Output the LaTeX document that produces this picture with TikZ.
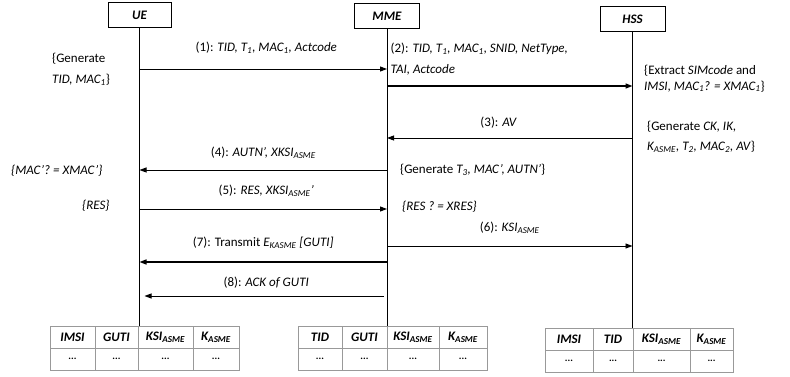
\documentclass[tikz,border=0pt]{standalone}
\usepackage{fontspec}
\setmainfont{Carlito}
\usetikzlibrary{arrows.meta}

\begin{document}
\begin{tikzpicture}[
        x=1pt, y=-1pt,
        >={Triangle[length=7pt, width=5pt]},
        every node/.style={font=\fontsize{13}{15}\selectfont},
        entity/.style={draw, line width=1pt, minimum width=63pt, minimum height=25pt, font=\fontsize{13}{15}\selectfont\bfseries\itshape},
        life/.style={draw, line width=0.9pt},
        msg/.style={draw, line width=0.9pt, ->},
        lbl/.style={inner sep=0pt},
        note/.style={inner sep=0pt, anchor=west, align=left},
        hcell/.style={draw=gray!80, line width=0.8pt, minimum height=22pt, inner sep=0pt, outer sep=0pt, anchor=north west, font=\fontsize{13}{15}\selectfont\bfseries\itshape},
        dcell/.style={draw=gray!80, line width=0.8pt, minimum height=22pt, inner sep=0pt, outer sep=0pt, anchor=north west, font=\fontsize{10}{12}\selectfont\bfseries}
    ]
        \useasboundingbox (0,0) rectangle (790,377);

        \node[entity] (ue) at (139.5,15.5) {UE};
        \node[entity, minimum width=65pt] (mme) at (387,16) {MME};
        \node[entity, minimum width=65pt] (hss) at (632.5,19.5) {HSS};

        % tables
        \foreach \x/\w/\t [count=\i] in {50/45/IMSI, 95/43/GUTI, 138/55/{KSI\textsubscript{ASME}}, 193/46/{K\textsubscript{ASME}}} {
            \node[hcell, minimum width=\w pt] (ueh\i) at (\x,326) {\t};
            \node[dcell, minimum width=\w pt] (ued\i) at (\x,348) {...};
        }
        \foreach \x/\w/\t [count=\i] in {298/44/TID, 342/45/GUTI, 387/52/{KSI\textsubscript{ASME}}, 439/48/{K\textsubscript{ASME}}} {
            \node[hcell, minimum width=\w pt] (mmeh\i) at (\x,326) {\t};
            \node[dcell, minimum width=\w pt] (mmed\i) at (\x,348) {...};
        }
        \foreach \x/\w/\t [count=\i] in {545/48/IMSI, 593/40/TID, 633/57/{KSI\textsubscript{ASME}}, 690/43/{K\textsubscript{ASME}}} {
            \node[hcell, minimum width=\w pt] (hssh\i) at (\x,328) {\t};
            \node[dcell, minimum width=\w pt] (hssd\i) at (\x,350) {...};
        }

        % lifelines
        \path[life] (ue.south) -- (ue.south |- ueh1.north);
        \path[life] (mme.south) -- (mme.south |- mmeh1.north);
        \path[life] (hss.south) -- (hss.south |- hssh1.north);

        \foreach \n/\y in {1/69, 2/86, 3/138, 4/170, 5/209, 6/246, 7/262, 8/296} {
            \coordinate (ue\n) at (ue.south |- 0,\y);
            \coordinate (mme\n) at (mme.south |- 0,\y);
            \coordinate (hss\n) at (hss.south |- 0,\y);
        }

        % messages
        \path[msg] (ue1) -- (mme1) node[lbl, midway, yshift=21pt, xshift=3pt] {(1): \textit{TID, T\textsubscript{1}, MAC\textsubscript{1}, Actcode}};
        \path[msg, line width=1.3pt] (mme2) -- (hss2) node[lbl, pos=0, anchor=west, align=left, xshift=3pt, yshift=26.5pt, font=\fontsize{13}{21}\selectfont] {(2): \textit{TID, T\textsubscript{1}, MAC\textsubscript{1}, SNID, NetType,}\\\textit{TAI, Actcode}};
        \path[msg] (hss3) -- (mme3) node[lbl, pos=0.545, yshift=15pt] {(3): \textit{AV}};
        \path[msg] (mme4) -- (ue4) node[lbl, midway, yshift=17pt] {(4): \textit{AUTN’, XKSI\textsubscript{ASME}}};
        \path[msg] (ue5) -- (mme5) node[lbl, midway, yshift=18pt, xshift=3pt] {(5): \textit{RES, XKSI\textsubscript{ASME}’}};
        \path[msg] (mme6) -- (hss6) node[lbl, midway, yshift=18pt] {(6): \textit{KSI\textsubscript{ASME}}};
        \path[msg, line width=1.3pt] (mme7) -- (ue7) node[lbl, midway, yshift=19pt] {(7): Transmit \textit{E\textsubscript{KASME} [GUTI]}};
        \path[msg, shorten <=3pt, shorten >=5pt] (mme8) -- (ue8) node[lbl, midway, yshift=13pt, xshift=3pt] {(8): \textit{ACK of GUTI}};

        % notes
        \node[note, font=\fontsize{13}{21}\selectfont] (uegen) at (52,69.5) {\{Generate\\\textit{TID, MAC\textsubscript{1}}\}};
        \node[note, font=\fontsize{13}{15.5}\selectfont] (hssext) at (644,78.5) {\{Extract \textit{SIMcode} and\\\textit{IMSI, MAC\textsubscript{1}? = XMAC\textsubscript{1}}\}};
        \node[note, font=\fontsize{13}{20}\selectfont] (hssgen) at (647,137) {\{Generate \textit{CK, IK,}\\\textit{K\textsubscript{ASME}, T\textsubscript{2}, MAC\textsubscript{2}, AV}\}};
        \node[note] (uemac) at (11,171) {\textit{\{MAC’? = XMAC’\}}};
        \node[note] (mmegen) at (400,170) {\{Generate \textit{T\textsubscript{3}, MAC’, AUTN’}\}};
        \node[note] (ueres) at (82,206) {\textit{\{RES\}}};
        \node[note] (mmeres) at (402,207) {\textit{\{RES ? = XRES\}}};
    \end{tikzpicture}
\end{document}
